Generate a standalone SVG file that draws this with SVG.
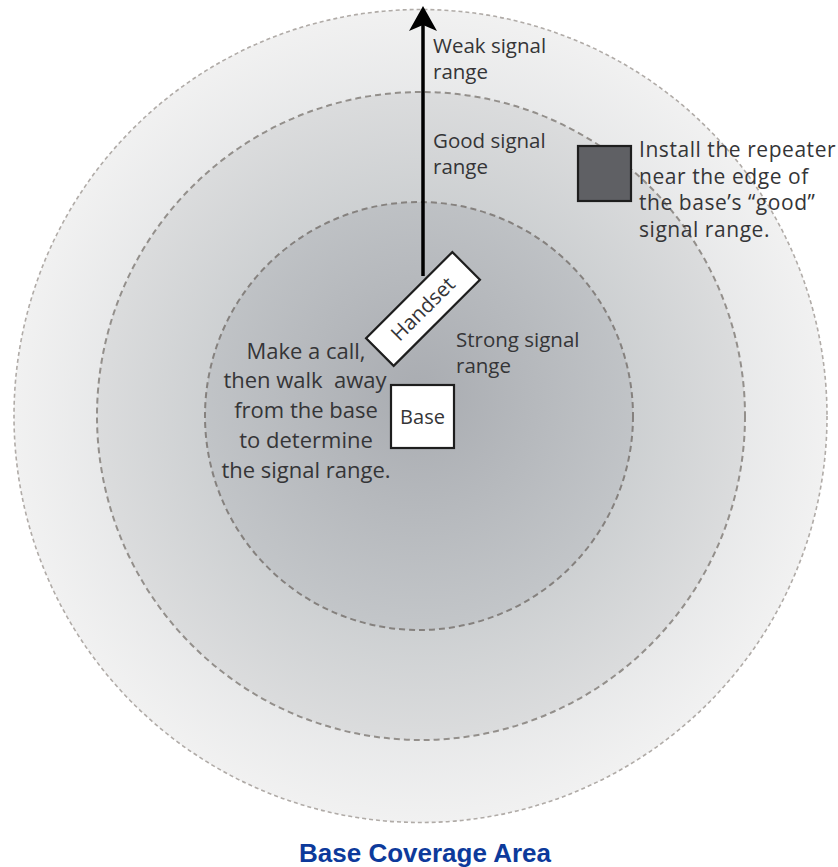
<svg xmlns="http://www.w3.org/2000/svg" width="838" height="867" viewBox="0 0 838 867">
  <style>
    .lbl { font-family: "Open Sans", "Noto Sans", sans-serif; fill: #353537; }
    .s20 { font-size: 20.5px; }
    .s22 { font-size: 22px; }
    .s21 { font-size: 21px; letter-spacing: 0.55px; }
    .zone { stroke-width: 2; stroke-dasharray: 6 4; }
    .box { fill: #ffffff; stroke: #1e1e1e; stroke-width: 2.2; }
    .title { font-family: "Liberation Sans", Arial, sans-serif; font-weight: bold; font-size: 26px; fill: #0d3a9b; }
  </style>
  <defs>
    <radialGradient id="gOuter" cx="0.5" cy="0.5" r="0.5">
      <stop offset="0.75" stop-color="#e6e7e8"/>
      <stop offset="1" stop-color="#f1f1f1"/>
    </radialGradient>
    <radialGradient id="gMid" cx="0.5" cy="0.5" r="0.5">
      <stop offset="0.6" stop-color="#cbced0"/>
      <stop offset="1" stop-color="#dbdcdd"/>
    </radialGradient>
    <radialGradient id="gInner" cx="0.5" cy="0.45" r="0.55">
      <stop offset="0" stop-color="#a9acb1"/>
      <stop offset="1" stop-color="#c3c6c9"/>
    </radialGradient>
  </defs>

  <rect x="0" y="0" width="838" height="867" fill="#ffffff"/>

  <g id="weak-zone">
    <circle cx="420.5" cy="416" r="406.5" fill="url(#gOuter)" stroke="#b0aba7" stroke-width="1.6" stroke-dasharray="4 3"/>
  </g>
  <g id="good-zone">
    <circle class="zone" cx="421" cy="416" r="324" fill="url(#gMid)" stroke="#938f8b"/>
  </g>
  <g id="strong-zone">
    <circle class="zone" cx="419" cy="416" r="214" fill="url(#gInner)" stroke="#85817e"/>
  </g>

  <g id="connectors">
    <line x1="423" y1="276" x2="423" y2="24" stroke="#000000" stroke-width="3.5"/>
    <path d="M423,6 L437,31 L423,25 L409,31 Z" fill="#000000"/>
  </g>

  <g id="handset">
    <g transform="translate(423,309) rotate(-45)">
      <rect class="box" x="-61" y="-19.5" width="122" height="39"/>
      <text class="lbl" x="0" y="7" font-size="20.5" text-anchor="middle">Handset</text>
    </g>
  </g>

  <g id="base">
    <rect class="box" x="391" y="385" width="63" height="63"/>
    <text class="lbl" x="422.5" y="424" font-size="20" text-anchor="middle">Base</text>
  </g>

  <g id="repeater">
    <rect x="578" y="146" width="53" height="55" fill="#5f6064" stroke="#1e1e1e" stroke-width="2.2"/>
  </g>

  <g id="label-weak">
    <text class="lbl s20" x="433" y="53">Weak signal</text>
    <text class="lbl s20" x="433" y="79">range</text>
  </g>
  <g id="label-good">
    <text class="lbl s20" x="433" y="148">Good signal</text>
    <text class="lbl s20" x="433" y="174">range</text>
  </g>
  <g id="label-strong">
    <text class="lbl s20" x="456" y="347">Strong signal</text>
    <text class="lbl s20" x="456" y="373">range</text>
  </g>
  <g id="label-repeater">
    <text class="lbl s21" x="639" y="157">Install the repeater</text>
    <text class="lbl s21" x="639" y="183.5">near the edge of</text>
    <text class="lbl s21" x="639" y="210">the base’s “good”</text>
    <text class="lbl s21" x="639" y="236.5">signal range.</text>
  </g>
  <g id="label-instructions">
    <text class="lbl s22" x="306" y="359" text-anchor="middle">Make a call,</text>
    <text class="lbl s22" x="305" y="388" text-anchor="middle" xml:space="preserve">then walk  away</text>
    <text class="lbl s22" x="306" y="418" text-anchor="middle">from the base</text>
    <text class="lbl s22" x="306" y="448" text-anchor="middle">to determine</text>
    <text class="lbl s22" x="306" y="478" text-anchor="middle">the signal range.</text>
  </g>

  <g id="title">
    <text class="title" x="425" y="862" text-anchor="middle">Base Coverage Area</text>
  </g>
</svg>
